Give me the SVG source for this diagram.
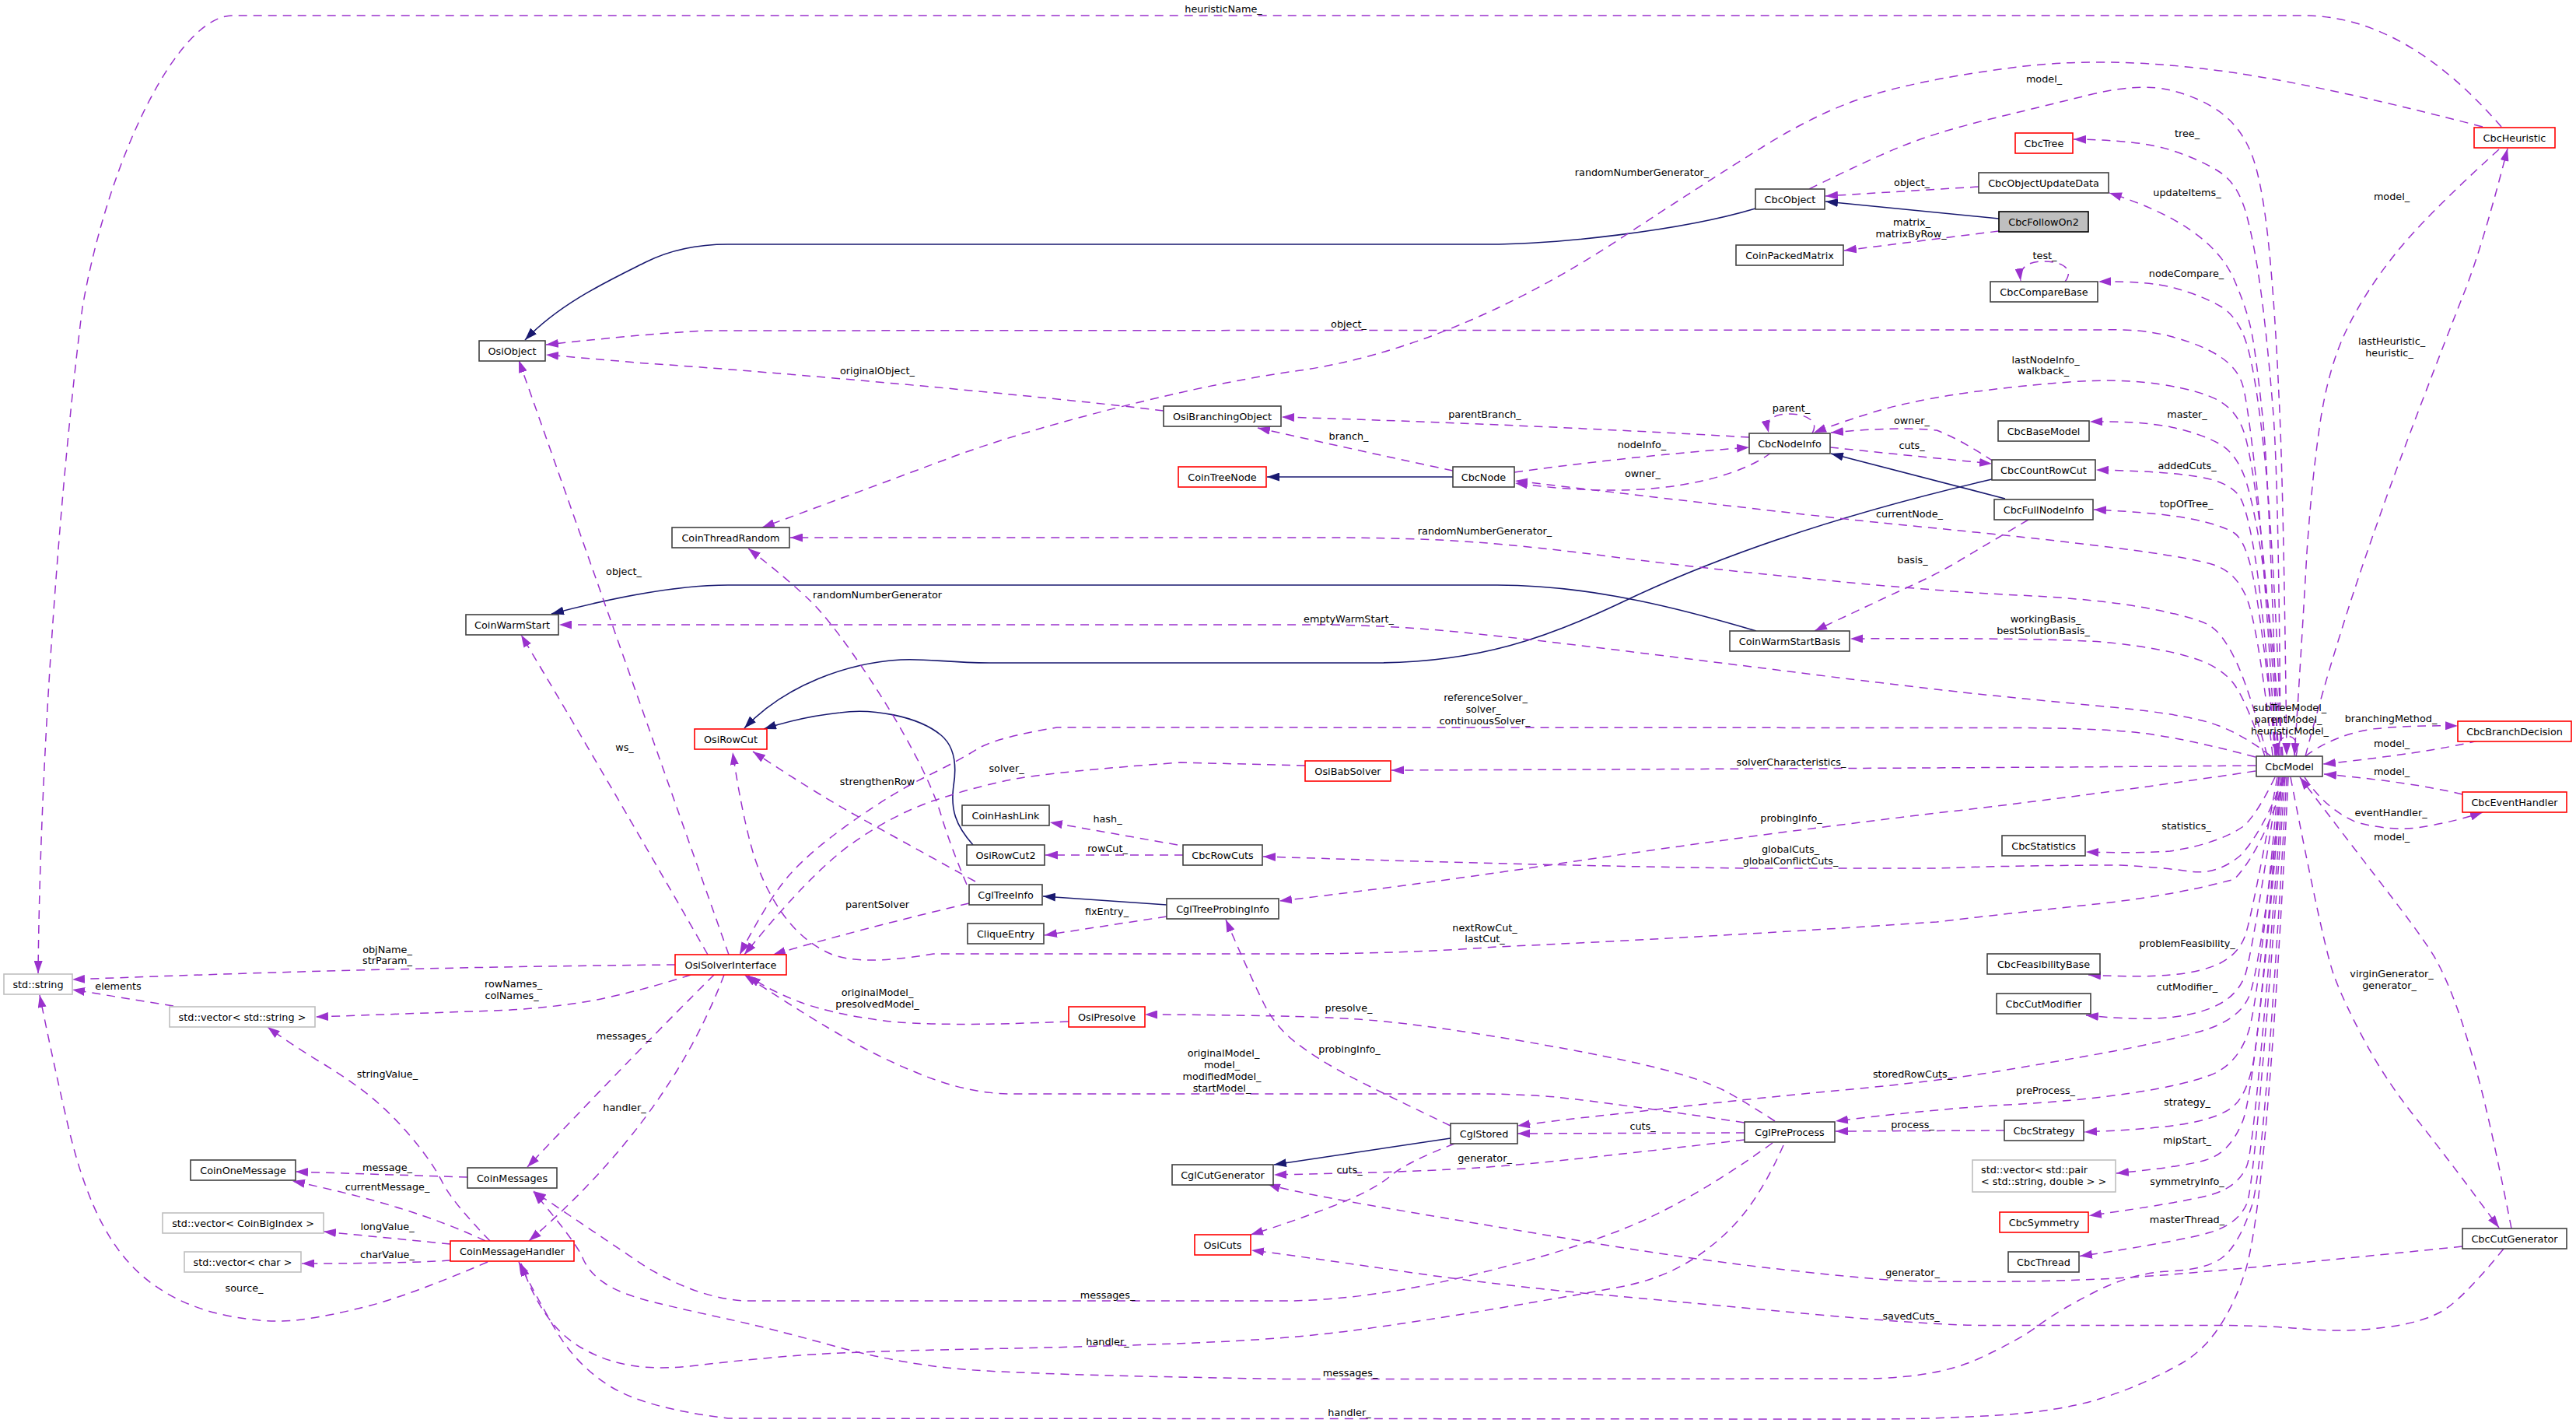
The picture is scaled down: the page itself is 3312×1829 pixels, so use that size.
<svg xmlns="http://www.w3.org/2000/svg" width="3312" height="1829" viewBox="0 0 3312 1829">
<style>
.node rect{fill:#fff;stroke:#404040;stroke-width:1.6}
.node.red rect{stroke:#ff0000}
.node.ext rect{stroke:#bfbfbf}
.node.focus rect{fill:#bfbfbf;stroke:#000}
text{font-family:"DejaVu Sans","Liberation Sans",sans-serif;font-size:12.8px;fill:#000}
.node text{text-anchor:middle}
.lbl text{text-anchor:middle}
.use{fill:none;stroke:#9a32cd;stroke-width:1.5;stroke-dasharray:11,8;marker-end:url(#ap)}
.inh{fill:none;stroke:#191970;stroke-width:1.6;marker-end:url(#an)}
</style>
<defs>
<marker id="ap" markerWidth="17" markerHeight="11" refX="16" refY="5.5" orient="auto" markerUnits="userSpaceOnUse"><path d="M0,0 L16,5.5 L0,11 z" fill="#9a32cd"/></marker>
<marker id="an" markerWidth="17" markerHeight="11" refX="16" refY="5.5" orient="auto" markerUnits="userSpaceOnUse"><path d="M0,0 L16,5.5 L0,11 z" fill="#191970"/></marker>
</defs>
<rect x="0" y="0" width="3312" height="1829" fill="#fff"/>
<g id="edges">
<!-- inheritance -->
<path class="inh" d="M2570,281 L2347,259"/>
<path class="inh" d="M2257,268 C2160,297 2000,314 1914,314 L936,314 C895,314 860,322 830,337 C780,362 720,390 675,437"/>
<path class="inh" d="M1868,613 L1629,613"/>
<path class="inh" d="M2578,641 L2354,583"/>
<path class="inh" d="M2561,616 C2350,665 2200,720 2094,770 C1990,820 1900,852 1766,852 L1275,852 C1220,852 1190,846 1158,848 C1090,852 1010,880 957,936"/>
<path class="inh" d="M1251,1086 C1228,1060 1222,1040 1226,1010 C1230,985 1228,960 1210,945 C1180,920 1120,910 1080,916 C1040,920 1010,928 982,937"/>
<path class="inh" d="M1500,1163 L1341,1152"/>
<path class="inh" d="M2258,811 C2170,785 2050,752 1925,752 L936,752 C880,752 800,765 709,789"/>
<path class="inh" d="M1865,1463 L1638,1497"/>
<!-- usage -->
<path class="use" d="M3216,163 C3170,110 3080,20 2962,20 L299,20 C230,20 140,200 106,395 C80,600 52,950 49,1251"/>
<path class="use" d="M3192,163 Q2962,103 2831,88 Q2700,73 2595,86 Q2490,99 2419,118.5 Q2348,138 2268.5,187.5 Q2189,237 2083.5,306.5 Q1978,376 1872,419.5 Q1766,463 1668.5,476.5 Q1571,490 1438.5,523.5 Q1306,557 1221.5,588.5 Q1137,620 980,678"/>
<path class="use" d="M2326,243 Q2401,206 2445,188 Q2490,170 2555,154 Q2621,138 2686,122 Q2752,106 2791,116 Q2831,126 2857,146 Q2883,166 2896,201 Q2909,237 2917,316 Q2925,395 2930,508 Q2936,620 2940,971"/>
<path class="use" d="M3213,192 Q3119,277 3079.5,326.5 Q3040,376 3016.5,425 Q2993,474 2982.5,547 Q2972,620 2966,710 Q2958,850 2950,971"/>
<path class="use" d="M2964,972 Q2983,900 2998.5,849 Q3014,798 3027,758.5 Q3040,719 3061,659.5 Q3082,600 3113.5,517.5 Q3145,435 3168.5,375.5 Q3192,316 3224,191"/>
<path class="use" d="M2932,971 Q2930,620 2922.5,527.5 Q2915,435 2907,375.5 Q2899,316 2888.5,276.5 Q2878,237 2854.5,221.5 Q2831,206 2791.5,193 Q2752,180 2666,179"/>
<path class="use" d="M2928,971 Q2918,620 2909,535 Q2900,450 2894,422.5 Q2888,395 2872.5,359.5 Q2857,324 2817.5,296.5 Q2778,269 2712,248"/>
<path class="use" d="M2544,240 L2347,252"/>
<path class="use" d="M2570,297 L2371,322"/>
<path class="use" d="M2655,362 C2668,345 2650,336 2628,336 C2605,336 2596,345 2598,361"/>
<path class="use" d="M2934,971 Q2922,680 2911,580 Q2900,480 2889,443.5 Q2878,407 2854.5,393.5 Q2831,380 2797,370.5 Q2763,361 2698,362"/>
<path class="use" d="M2926,971 Q2910,700 2900,610 Q2890,520 2884,497 Q2878,474 2854.5,458.5 Q2831,443 2791.5,432.5 Q2752,422 2700,424 L909,425 Q840,428 702,443"/>
<path class="use" d="M1496,528 C1350,510 1000,478 830,467 L702,456"/>
<path class="use" d="M2930,971 Q2915,750 2905,670 Q2895,590 2886.5,560 Q2878,530 2854.5,516 Q2831,502 2778.5,494 Q2726,486 2660.5,491 Q2595,496 2542.5,503 Q2490,510 2445.5,520 Q2401,530 2332,556"/>
<path class="use" d="M2935,971 Q2920,800 2910,730 Q2900,660 2889,622.5 Q2878,585 2854.5,571 Q2831,557.5 2791.5,549 Q2752,541 2687,542"/>
<path class="use" d="M2249,562 Q1950,545 1648,536"/>
<path class="use" d="M1868,605 Q1760,582 1617,550"/>
<path class="use" d="M1947,607 Q2100,586 2249,575"/>
<path class="use" d="M2563,593 Q2521,565 2490,553 Q2440,548 2354,556"/>
<path class="use" d="M2353,575 Q2450,585 2561,596"/>
<path class="use" d="M2330,557 C2340,540 2320,532 2300,532 C2280,532 2270,540 2274,556"/>
<path class="use" d="M2277,582 C2240,610 2160,632 2060,630 C2010,629 1980,625 1948,621"/>
<path class="use" d="M2922,971 Q2905,820 2891.5,777 Q2878,734 2841.5,724.5 Q2805,715 2726,705 Q2647,695 2568.5,687 Q2490,679 2419,672 Q2348,665 1948,618"/>
<path class="use" d="M2925,971 Q2910,780 2899,713.5 Q2888,647 2877.5,635.5 Q2867,624 2849,618 Q2831,612 2791.5,608.5 Q2752,605 2695,604"/>
<path class="use" d="M2927,971 Q2908,800 2898,747.5 Q2888,695 2872.5,685 Q2857,675 2817.5,667 Q2778,659 2692,655"/>
<path class="use" d="M2608,668 Q2542,707 2516,722.5 Q2490,738 2459,752 Q2428,766 2333,811"/>
<path class="use" d="M2915,971 Q2890,880 2873.5,847 Q2857,813.5 2841,804 Q2825,794 2762.5,782 Q2700,770 2595,765 Q2490,760 2339.5,745 Q2189,730.5 2083.5,717 Q1978,703 1898.5,697 Q1819,691 1700,691 L1016,691"/>
<path class="use" d="M2912,972 Q2890,905 2873.5,881 Q2857,857 2817.5,845 Q2778,833 2712.5,826 Q2647,819.5 2379,821"/>
<path class="use" d="M2920,972 Q2878,940 2841.5,929 Q2805,918 2726,910 Q2647,902.5 2568.5,894.6 Q2490,886.7 2339.5,868 Q2189,849 2083.5,836 Q1978,823 1885,813.3 Q1792,803.6 1700,803 L719,803"/>
<path class="use" d="M2900,973 Q2805,948 2752,942 Q2700,936 2600,935.5 L1359,935 Q1280,948 1256,963 Q1232,978 1190,998.5 Q1148,1019 1095,1056.5 Q1042,1094 1015.5,1124 Q989,1153.6 951,1227"/>
<path class="use" d="M2900,984 Q2600,987 1789,990"/>
<path class="use" d="M1678,984 L1518,980 Q1359,991.5 1306,1001 Q1253.5,1011 1200.75,1029 Q1148,1047 1095,1084.5 Q1042,1122 957,1227"/>
<path class="use" d="M1254,1133 Q1148,1074.5 1095,1045 Q1042,1015 968,966"/>
<path class="use" d="M1246,1161 Q1095,1197 994,1227"/>
<path class="use" d="M1243,1137 Q1222,1087 1211,1051 Q1200.6,1015 1174,965.5 Q1148,916 1108,857 Q1068,798 1041.5,772 Q1015,746 962,705"/>
<path class="use" d="M1514,1086 L1350,1057"/>
<path class="use" d="M1521,1099 L1344,1099"/>
<path class="use" d="M2936,999 Q2909,1070 2880,1100 Q2850,1125 2815,1120 Q2780,1115 2726,1112 Q2600,1112 2490,1116 L2242,1116 Q2000,1113 1624,1101"/>
<path class="use" d="M2925,999 Q2900,1050 2883,1063 Q2850,1085 2790,1094 Q2752,1097 2682,1095"/>
<path class="use" d="M2900,991 Q2700,1021 2490,1045 Q2242,1074.5 1978,1114 Q1800,1140 1645,1158"/>
<path class="use" d="M1500,1178 L1343,1202"/>
<path class="use" d="M2938,999 Q2910,1090 2873,1130 Q2800,1150 2700,1161.5 Q2600,1172 2490,1185 Q2189,1205 1925,1217 Q1800,1226 1660,1226 L1200,1226 Q1105,1242 1068,1226 Q1031,1210 1004.5,1172 Q978,1134 965,1084.5 Q952,1035 942,967"/>
<path class="use" d="M868,1240 Q500,1243 93,1259"/>
<path class="use" d="M888,1253 Q830,1272 767.6,1285 Q700,1297 635,1299 L406,1307"/>
<path class="use" d="M223,1293 L93,1272"/>
<path class="use" d="M918,1253 Q830,1340 678,1500"/>
<path class="use" d="M931,1253 Q860,1440 680,1595"/>
<path class="use" d="M937,1227 L667,463"/>
<path class="use" d="M910,1227 Q780,1000 670,816"/>
<path class="use" d="M601,1513 L380,1506"/>
<path class="use" d="M624,1595 Q530,1550 376,1518"/>
<path class="use" d="M579,1599 L416,1583"/>
<path class="use" d="M579,1620 Q520,1624 388,1624"/>
<path class="use" d="M630,1595 Q582,1545.6 569,1520 Q556,1494 529.5,1462.5 Q503,1431 476.5,1409.5 Q450,1388 410,1364 Q370.6,1340 344,1320"/>
<path class="use" d="M627,1622 Q529,1664 476,1678 Q423.5,1691.6 384,1696.5 Q344,1701.5 291,1690.75 Q238,1680 198.5,1652 Q159,1624.5 132.5,1575 Q106,1526 87.5,1447 Q69,1368 51,1279"/>
<path class="use" d="M1374,1313 Q1200.6,1320.5 1134,1311.6 Q1068,1302.8 1028.5,1288 Q989,1273 962,1254"/>
<path class="use" d="M2282,1441 Q2242,1415 2215.5,1401 Q2189,1387.6 2136,1374 Q2083.5,1360 1951,1337 Q1819,1314.6 1739.5,1309.6 Q1660,1304.7 1472,1304"/>
<path class="use" d="M2243,1443 Q2083.5,1419 2000,1410 Q1951,1406 1900,1406 L1300,1406 Q1253.5,1406 1200,1387 Q1148,1368 1095,1338.5 Q1042,1309 957,1253"/>
<path class="use" d="M1865,1447 Q1766,1399.5 1729,1380 Q1692,1360 1666,1340 Q1640,1320 1625,1290 Q1610,1260 1576,1182"/>
<path class="use" d="M2243,1456 L1951,1457"/>
<path class="use" d="M2935,999 Q2905,1250 2891.5,1281 Q2878,1312 2828,1326 Q2778,1340 2712.5,1352 Q2647,1364 2568.5,1377 Q2490,1390 2365,1401.5 Q2240,1413 2095.5,1430 Q2000,1440 1951,1447"/>
<path class="use" d="M2930,999 Q2905,1280 2891.5,1324 Q2878,1368 2841.5,1382 Q2805,1395.6 2739,1405 Q2673.5,1415 2582,1420 Q2490,1425 2360,1441"/>
<path class="use" d="M2577,1453 L2360,1454"/>
<path class="use" d="M2932,999 Q2905,1330 2896.5,1368.5 Q2888,1407 2872.5,1421 Q2857,1435 2817.5,1443 Q2778,1451 2680,1455"/>
<path class="use" d="M2934,999 Q2900,1400 2883.5,1441 Q2867,1482 2836,1491 Q2805,1500 2721,1508"/>
<path class="use" d="M2936,999 Q2900,1470 2889,1498 Q2878,1526 2841.5,1536 Q2805,1545.6 2686,1562.5"/>
<path class="use" d="M2938,999 Q2900,1520 2889,1546.5 Q2878,1573 2841.5,1584 Q2805,1595 2674,1614.6"/>
<path class="use" d="M2928,999 Q2895,1180 2886.5,1203 Q2878,1226 2854.5,1238 Q2831,1249.5 2791.5,1253 Q2752,1256.6 2685,1253"/>
<path class="use" d="M2930,999 Q2895,1230 2886.5,1253.5 Q2878,1277 2854.5,1290 Q2831,1303 2791.5,1307.5 Q2752,1312 2682,1305"/>
<path class="use" d="M3166,1602 Q2909,1628.5 2804.5,1637 Q2700,1646 2595,1647 Q2490,1648 2445.5,1646 Q2401,1644 2295,1632 Q2189,1620.6 2057,1599 Q1925,1577 1792.5,1554.5 Q1660,1532 1630,1522"/>
<path class="use" d="M2243,1465 Q2030.6,1490 1951,1497 Q1872,1504 1766,1507 L1638,1510"/>
<path class="use" d="M1870,1470 Q1808,1494 1787,1512 Q1766,1530 1713,1550.5 Q1660,1571 1608,1587"/>
<path class="use" d="M3219,1605 Q3171,1664 3145,1682 Q3119,1699.5 3066.5,1706 Q3014,1713 2961.5,1708 Q2909,1703.5 2850,1703.5 L2550,1703.5 Q2490,1703.5 2339.5,1690 Q2189,1676 2057,1664 Q1925,1652 1792.5,1632.5 Q1660,1613 1609,1607"/>
<path class="use" d="M2279,1469 Q2189,1534 2110,1570 Q2030,1605 1898,1637.5 Q1766,1670 1660,1672 L960,1672 Q900,1670 830,1628 L686,1531"/>
<path class="use" d="M2293,1472 Q2269,1526 2242.5,1559.5 Q2216,1593 2176.3,1618.5 Q2136.6,1644 2083.6,1654 Q2030.6,1664 1924.8,1681.75 Q1819,1699.5 1739.5,1710 Q1660,1721 1536,1726 Q1412,1731 1253.5,1734 Q1095,1737 1028.5,1742 Q962,1747 896,1755 Q830,1763 785.5,1749 Q741,1735 714.5,1705.5 Q688,1676 670,1624"/>
<path class="use" d="M2940,999 Q2912,1500 2895,1550.5 Q2878,1601 2857,1616.5 Q2836,1632 2789,1634 Q2742,1636 2694.5,1660 Q2647,1684 2621,1703.5 Q2595,1723 2542.5,1747 Q2490,1770.6 2400,1772 L1660,1772.6 Q1306,1767 1227,1759 Q1148,1751 1068.5,1729 Q989,1707 936,1695.5 Q883,1684 841.5,1674 Q800,1664 778.5,1650 Q757,1636 749,1616.5 Q741,1597 686,1532"/>
<path class="use" d="M2942,999 Q2915,1550 2886,1636.5 Q2857,1723 2804.5,1752.5 Q2752,1782 2699.5,1798 Q2647,1814 2568.5,1819 Q2490,1824 2400,1824 L936,1823 Q830,1810 785.5,1782.5 Q741,1755 714.5,1709.5 Q688,1664 667,1622"/>
<path class="use" d="M3186,952 Q3120,968 2987,982"/>
<path class="use" d="M2964,972 Q3000,945 3050,937 Q3100,932 3160,933"/>
<path class="use" d="M3166,1021 Q3100,1005 2988,995"/>
<path class="use" d="M2963,999 Q2990,1040 3030,1057 Q3080,1070 3120,1062 Q3160,1055 3192,1044"/>
<path class="use" d="M3229,1579 Q3203,1447 3187,1387.5 Q3171,1328 3158,1292.5 Q3145,1257 3132,1233.5 Q3119,1210 3066.5,1142 Q3014,1074 2957,999"/>
<path class="use" d="M2945,999 Q2988,1220 3001,1254.5 Q3014,1289 3040.5,1338.5 Q3067,1388 3106,1437 Q3145,1486 3213,1578"/>
<path class="use" d="M2952,972 C2962,938 2922,938 2930,971"/>
</g>
<g id="labels" class="lbl">
<text x="1573" y="16">heuristicName_</text>
<text x="2111" y="226">randomNumberGenerator_</text>
<text x="2628" y="106">model_</text>
<text x="3075" y="257">model_</text>
<text x="3075" y="443">lastHeuristic_</text>
<text x="3072" y="458">heuristic_</text>
<text x="2812" y="176">tree_</text>
<text x="2812" y="252">updateItems_</text>
<text x="2458" y="239">object_</text>
<text x="2458" y="290">matrix_</text>
<text x="2457" y="305">matrixByRow_</text>
<text x="2629" y="333">test_</text>
<text x="2811" y="356">nodeCompare_</text>
<text x="1734" y="421">object_</text>
<text x="1128" y="481">originalObject_</text>
<text x="2630" y="467">lastNodeInfo_</text>
<text x="2627" y="481">walkback_</text>
<text x="2812" y="537">master_</text>
<text x="1909" y="537">parentBranch_</text>
<text x="1734" y="565">branch_</text>
<text x="2111" y="576">nodeInfo_</text>
<text x="2458" y="545">owner_</text>
<text x="2458" y="577">cuts_</text>
<text x="2303" y="529">parent_</text>
<text x="2112" y="613">owner_</text>
<text x="2455" y="665">currentNode_</text>
<text x="2812" y="603">addedCuts_</text>
<text x="2811" y="652">topOfTree_</text>
<text x="2459" y="724">basis_</text>
<text x="1909" y="687">randomNumberGenerator_</text>
<text x="2630" y="800">workingBasis_</text>
<text x="2627" y="815">bestSolutionBasis_</text>
<text x="1734" y="800">emptyWarmStart_</text>
<text x="1910" y="901">referenceSolver_</text>
<text x="1907" y="916">solver_</text>
<text x="1909" y="931">continuousSolver_</text>
<text x="2303" y="984">solverCharacteristics_</text>
<text x="1294" y="992">solver_</text>
<text x="1128" y="1009">strengthenRow</text>
<text x="1128" y="1167">parentSolver</text>
<text x="1128" y="769">randomNumberGenerator</text>
<text x="1424" y="1057">hash_</text>
<text x="1424" y="1095">rowCut_</text>
<text x="2302" y="1096">globalCuts_</text>
<text x="2302" y="1111">globalConflictCuts_</text>
<text x="2811" y="1066">statistics_</text>
<text x="2303" y="1056">probingInfo_</text>
<text x="1423" y="1176">fixEntry_</text>
<text x="1909" y="1197">nextRowCut_</text>
<text x="1909" y="1211">lastCut_</text>
<text x="498" y="1225">objName_</text>
<text x="498" y="1239">strParam_</text>
<text x="660" y="1269">rowNames_</text>
<text x="658" y="1284">colNames_</text>
<text x="152" y="1272">elements</text>
<text x="802" y="1336">messages_</text>
<text x="803" y="1428">handler_</text>
<text x="802" y="739">object_</text>
<text x="803" y="965">ws_</text>
<text x="498" y="1505">message_</text>
<text x="498" y="1530">currentMessage_</text>
<text x="498" y="1581">longValue_</text>
<text x="498" y="1617">charValue_</text>
<text x="498" y="1385">stringValue_</text>
<text x="314" y="1660">source_</text>
<text x="1128" y="1280">originalModel_</text>
<text x="1128" y="1295">presolvedModel_</text>
<text x="1734" y="1300">presolve_</text>
<text x="1573" y="1358">originalModel_</text>
<text x="1571" y="1373">model_</text>
<text x="1571" y="1388">modifiedModel_</text>
<text x="1571" y="1403">startModel_</text>
<text x="1735" y="1353">probingInfo_</text>
<text x="2112" y="1452">cuts_</text>
<text x="2459" y="1385">storedRowCuts_</text>
<text x="2630" y="1406">preProcess_</text>
<text x="2459" y="1450">process_</text>
<text x="2812" y="1421">strategy_</text>
<text x="2812" y="1470">mipStart_</text>
<text x="2812" y="1523">symmetryInfo_</text>
<text x="2812" y="1572">masterThread_</text>
<text x="2812" y="1217">problemFeasibility_</text>
<text x="2812" y="1273">cutModifier_</text>
<text x="2459" y="1640">generator_</text>
<text x="1909" y="1493">generator_</text>
<text x="1735" y="1508">cuts_</text>
<text x="2457" y="1696">savedCuts_</text>
<text x="1424" y="1669">messages_</text>
<text x="1424" y="1729">handler_</text>
<text x="1736" y="1769">messages_</text>
<text x="1735" y="1820">handler_</text>
<text x="3075" y="960">model_</text>
<text x="3074" y="928">branchingMethod_</text>
<text x="3075" y="996">model_</text>
<text x="3074" y="1049">eventHandler_</text>
<text x="3075" y="1080">model_</text>
<text x="3075" y="1256">virginGenerator_</text>
<text x="3072" y="1271">generator_</text>
<text x="2944" y="914">subTreeModel_</text>
<text x="2942" y="929">parentModel_</text>
<text x="2944" y="944">heuristicModel_</text>
</g>
<g id="n-CbcHeuristic" class="node red"><rect x="3181" y="164" width="104" height="26"/><text x="3233" y="181.5">CbcHeuristic</text></g>
<g id="n-CbcTree" class="node red"><rect x="2591" y="171" width="74" height="26"/><text x="2628" y="188.5">CbcTree</text></g>
<g id="n-CbcObjectUpdateData" class="node"><rect x="2544" y="222" width="167" height="26"/><text x="2627.5" y="239.5">CbcObjectUpdateData</text></g>
<g id="n-CbcFollowOn2" class="node focus"><rect x="2570" y="272" width="115" height="26"/><text x="2627.5" y="289.5">CbcFollowOn2</text></g>
<g id="n-CbcCompareBase" class="node"><rect x="2559" y="362" width="138" height="26"/><text x="2628" y="379.5">CbcCompareBase</text></g>
<g id="n-CbcObject" class="node"><rect x="2257" y="243" width="89" height="26"/><text x="2301.5" y="260.5">CbcObject</text></g>
<g id="n-CoinPackedMatrix" class="node"><rect x="2232" y="315" width="138" height="26"/><text x="2301" y="332.5">CoinPackedMatrix</text></g>
<g id="n-OsiObject" class="node"><rect x="616" y="438" width="85" height="26"/><text x="658.5" y="455.5">OsiObject</text></g>
<g id="n-OsiBranchingObject" class="node"><rect x="1496" y="522" width="151" height="26"/><text x="1571.5" y="539.5">OsiBranchingObject</text></g>
<g id="n-CbcNodeInfo" class="node"><rect x="2249" y="557" width="104" height="26"/><text x="2301" y="574.5">CbcNodeInfo</text></g>
<g id="n-CbcBaseModel" class="node"><rect x="2569" y="541" width="117" height="26"/><text x="2627.5" y="558.5">CbcBaseModel</text></g>
<g id="n-CbcCountRowCut" class="node"><rect x="2561" y="591" width="133" height="26"/><text x="2627.5" y="608.5">CbcCountRowCut</text></g>
<g id="n-CoinTreeNode" class="node red"><rect x="1515" y="600" width="113" height="26"/><text x="1571.5" y="617.5">CoinTreeNode</text></g>
<g id="n-CbcNode" class="node"><rect x="1868" y="600" width="79" height="26"/><text x="1907.5" y="617.5">CbcNode</text></g>
<g id="n-CbcFullNodeInfo" class="node"><rect x="2564" y="642" width="127" height="26"/><text x="2627.5" y="659.5">CbcFullNodeInfo</text></g>
<g id="n-CoinThreadRandom" class="node"><rect x="864" y="678" width="151" height="26"/><text x="939.5" y="695.5">CoinThreadRandom</text></g>
<g id="n-CoinWarmStart" class="node"><rect x="599" y="790" width="119" height="26"/><text x="658.5" y="807.5">CoinWarmStart</text></g>
<g id="n-CoinWarmStartBasis" class="node"><rect x="2224" y="811" width="154" height="26"/><text x="2301" y="828.5">CoinWarmStartBasis</text></g>
<g id="n-OsiRowCut" class="node red"><rect x="893" y="937" width="93" height="26"/><text x="939.5" y="954.5">OsiRowCut</text></g>
<g id="n-OsiBabSolver" class="node red"><rect x="1678" y="978" width="110" height="26"/><text x="1733" y="995.5">OsiBabSolver</text></g>
<g id="n-CbcModel" class="node"><rect x="2901" y="972" width="85" height="26"/><text x="2943.5" y="989.5">CbcModel</text></g>
<g id="n-CbcBranchDecision" class="node red"><rect x="3160" y="927" width="146" height="26"/><text x="3233" y="944.5">CbcBranchDecision</text></g>
<g id="n-CbcEventHandler" class="node red"><rect x="3166" y="1018" width="134" height="26"/><text x="3233" y="1035.5">CbcEventHandler</text></g>
<g id="n-CoinHashLink" class="node"><rect x="1237" y="1035" width="112" height="26"/><text x="1293" y="1052.5">CoinHashLink</text></g>
<g id="n-OsiRowCut2" class="node"><rect x="1243" y="1086" width="100" height="26"/><text x="1293" y="1103.5">OsiRowCut2</text></g>
<g id="n-CbcRowCuts" class="node"><rect x="1521" y="1086" width="102" height="26"/><text x="1572" y="1103.5">CbcRowCuts</text></g>
<g id="n-CbcStatistics" class="node"><rect x="2574" y="1074" width="107" height="26"/><text x="2627.5" y="1091.5">CbcStatistics</text></g>
<g id="n-CglTreeInfo" class="node"><rect x="1246" y="1137" width="94" height="26"/><text x="1293" y="1154.5">CglTreeInfo</text></g>
<g id="n-CglTreeProbingInfo" class="node"><rect x="1500" y="1155" width="144" height="26"/><text x="1572" y="1172.5">CglTreeProbingInfo</text></g>
<g id="n-CliqueEntry" class="node"><rect x="1244" y="1187" width="98" height="26"/><text x="1293" y="1204.5">CliqueEntry</text></g>
<g id="n-CbcFeasibilityBase" class="node"><rect x="2555" y="1226" width="145" height="26"/><text x="2627.5" y="1243.5">CbcFeasibilityBase</text></g>
<g id="n-OsiSolverInterface" class="node red"><rect x="868" y="1227" width="143" height="26"/><text x="939.5" y="1244.5">OsiSolverInterface</text></g>
<g id="n-std-string" class="node ext"><rect x="5" y="1252" width="88" height="26"/><text x="49" y="1269.5">std::string</text></g>
<g id="n-std-vector-string" class="node ext"><rect x="218" y="1294" width="187" height="26"/><text x="311.5" y="1311.5">std::vector&lt; std::string &gt;</text></g>
<g id="n-CbcCutModifier" class="node"><rect x="2567" y="1277" width="121" height="26"/><text x="2627.5" y="1294.5">CbcCutModifier</text></g>
<g id="n-OsiPresolve" class="node red"><rect x="1374" y="1294" width="98" height="26"/><text x="1423" y="1311.5">OsiPresolve</text></g>
<g id="n-CglStored" class="node"><rect x="1865" y="1444" width="86" height="26"/><text x="1908" y="1461.5">CglStored</text></g>
<g id="n-CglPreProcess" class="node"><rect x="2243" y="1442" width="116" height="26"/><text x="2301" y="1459.5">CglPreProcess</text></g>
<g id="n-CbcStrategy" class="node"><rect x="2577" y="1440" width="102" height="26"/><text x="2628" y="1457.5">CbcStrategy</text></g>
<g id="n-CoinOneMessage" class="node"><rect x="245" y="1491" width="135" height="26"/><text x="312.5" y="1508.5">CoinOneMessage</text></g>
<g id="n-CglCutGenerator" class="node"><rect x="1507" y="1497" width="130" height="26"/><text x="1572" y="1514.5">CglCutGenerator</text></g>
<g id="n-CoinMessages" class="node"><rect x="601" y="1501" width="115" height="26"/><text x="658.5" y="1518.5">CoinMessages</text></g>
<g id="n-std-vector-pair" class="node ext"><rect x="2536" y="1491" width="184" height="41"/><text x="2547" y="1507.5" style="text-anchor:start">std::vector&lt; std::pair</text><text x="2547" y="1522.5" style="text-anchor:start">&lt; std::string, double &gt; &gt;</text></g>
<g id="n-std-vector-CoinBigIndex" class="node ext"><rect x="209" y="1559" width="207" height="26"/><text x="312.5" y="1576.5">std::vector&lt; CoinBigIndex &gt;</text></g>
<g id="n-CbcSymmetry" class="node red"><rect x="2571" y="1558" width="114" height="26"/><text x="2628" y="1575.5">CbcSymmetry</text></g>
<g id="n-OsiCuts" class="node red"><rect x="1536" y="1587" width="72" height="26"/><text x="1572" y="1604.5">OsiCuts</text></g>
<g id="n-CbcCutGenerator" class="node"><rect x="3166" y="1579" width="134" height="26"/><text x="3233" y="1596.5">CbcCutGenerator</text></g>
<g id="n-CoinMessageHandler" class="node red"><rect x="579" y="1595" width="159" height="26"/><text x="658.5" y="1612.5">CoinMessageHandler</text></g>
<g id="n-std-vector-char" class="node ext"><rect x="237" y="1609" width="150" height="26"/><text x="312" y="1626.5">std::vector&lt; char &gt;</text></g>
<g id="n-CbcThread" class="node"><rect x="2582" y="1609" width="91" height="26"/><text x="2627.5" y="1626.5">CbcThread</text></g>
</svg>
